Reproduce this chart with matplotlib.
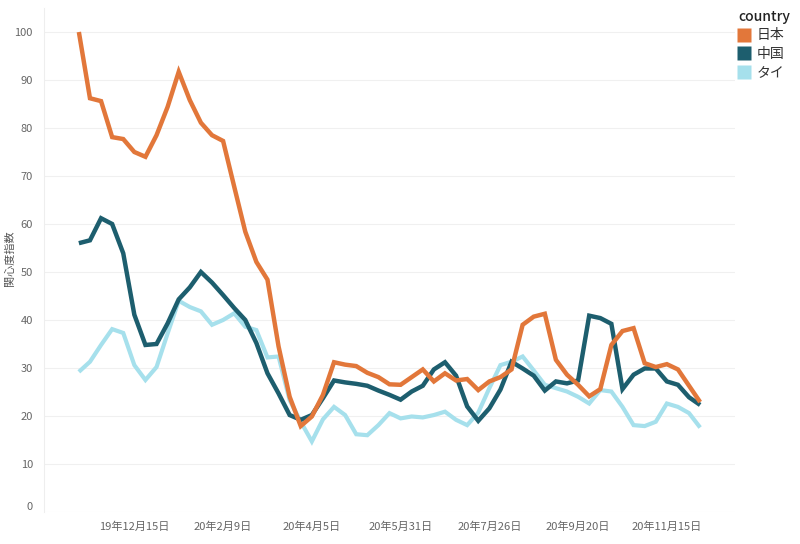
import matplotlib
matplotlib.use("Agg")
import matplotlib.pyplot as plt
import matplotlib.dates as mdates
from matplotlib.lines import Line2D
import pandas as pd

plt.rcParams['font.family'] = ['Noto Sans CJK JP', 'DejaVu Sans']

start_date = "2019-11-10"
n_weeks = 57
countries = ["日本", "中国", "タイ"]
japan = [100, 86.2, 85.6, 78.1, 77.7, 75.0, 74.0, 78.5, 84.4, 91.7,
         85.8, 81.1, 78.5, 77.3, 67.8, 58.4, 52.1, 48.4, 34.5, 24.0,
         17.9, 19.9, 24.4, 31.2, 30.7, 30.4, 29.0, 28.1, 26.6, 26.5,
         28.1, 29.7, 27.2, 28.9, 27.4, 27.7, 25.4, 27.2, 28.1, 29.7,
         39.0, 40.7, 41.3, 31.7, 28.6, 26.5, 24.1, 25.6, 34.8, 37.7,
         38.3, 31.0, 30.2, 30.8, 29.7, 26.3, 22.9]
china = [56.0, 56.6, 61.2, 60.0, 53.9, 41.1, 34.8, 35.0, 39.3, 44.3,
         46.8, 50.0, 47.8, 45.2, 42.5, 40.0, 35.2, 28.9, 24.7, 20.2,
         19.2, 20.2, 23.7, 27.4, 27.0, 26.7, 26.3, 25.3, 24.4, 23.4,
         25.1, 26.3, 29.7, 31.2, 28.4, 22.0, 19.0, 21.6, 25.5, 31.3,
         29.9, 28.4, 25.3, 27.2, 26.8, 27.4, 40.9, 40.4, 39.2, 25.6,
         28.6, 29.9, 29.9, 27.2, 26.5, 23.9, 22.3]
thai = [29.2, 31.3, 34.8, 38.1, 37.3, 30.6, 27.5, 30.2, 37.2, 44.0,
        42.7, 41.8, 39.0, 40.0, 41.4, 38.6, 37.9, 32.2, 32.4, 23.3,
        18.8, 14.7, 19.3, 21.9, 20.2, 16.2, 16.0, 18.1, 20.6, 19.5,
        19.9, 19.7, 20.2, 20.9, 19.2, 18.1, 20.7, 25.8, 30.6, 31.3,
        32.4, 29.5, 26.5, 25.8, 25.1, 24.0, 22.6, 25.4, 25.1, 21.9,
        18.1, 17.9, 18.8, 22.6, 21.9, 20.6, 17.6]
tick_dates = ["2019-12-15", "2020-02-09", "2020-04-05", "2020-05-31",
              "2020-07-26", "2020-09-20", "2020-11-15"]
tick_labels = ["19年12月15日", "20年2月9日", "20年4月5日", "20年5月31日",
               "20年7月26日", "20年9月20日", "20年11月15日"]
y_ticks = [0, 10, 20, 30, 40, 50, 60, 70, 80, 90, 100]

colors = {"日本": "#E2773A", "中国": "#1D5E6E", "タイ": "#A6E0EC"}
series = {"日本": japan, "中国": china, "タイ": thai}

dates = pd.date_range(start_date, periods=n_weeks, freq="7D")

fig = plt.figure(figsize=(8, 5.44), dpi=100)
ax = fig.add_axes([44/800, 1-512/544, (735-44)/800, (512-8)/544])

for name, z, lw in [("タイ", 2, 3.0), ("中国", 3, 3.2), ("日本", 4, 3.2)]:
    ax.plot(dates, series[name], color=colors[name], lw=lw, zorder=z,
            solid_capstyle='butt', solid_joinstyle='miter')

ax.set_ylim(0, 105)
ax.set_yticks(y_ticks)
ax.set_xlim(dates[0] - pd.Timedelta(days=22), dates[-1] + pd.Timedelta(days=22))
ax.set_xticks(pd.to_datetime(tick_dates))
ax.set_xticklabels(tick_labels)
ax.tick_params(axis='both', length=0, colors='#666666', labelsize=8)
ax.tick_params(axis='x', pad=7)
ax.tick_params(axis='y', pad=8)
ax.grid(axis='y', color='#f0f0f0', lw=0.8)
ax.set_axisbelow(True)
for s in ['top', 'right', 'bottom']:
    ax.spines[s].set_visible(False)
ax.spines['left'].set_color('#eeeeee')
ax.spines['left'].set_linewidth(0.8)
fig.canvas.draw()
ax.get_yticklabels()[0].set_va('bottom')

fig.text(10/800, 1-258/544, "関心度指数", rotation=90, ha='center', va='center',
         fontsize=8, color='#555555')

handles = [Line2D([0], [0], marker='s', color='none', markerfacecolor=colors[c],
                  markeredgecolor='none', markersize=10) for c in countries]
leg = fig.legend(handles, countries, title="country", loc='upper left',
                 bbox_to_anchor=(733/800, 1-4/544), frameon=False,
                 fontsize=10, title_fontsize=10, handlelength=0.8,
                 handletextpad=0.5, labelspacing=0.35, borderaxespad=0)
leg._legend_box.align = "left"
leg.get_title().set_color('#222222')
leg.get_title().set_fontweight('medium')
for t in leg.get_texts():
    t.set_color('#333333')

fig.savefig("out.png", dpi=100)
